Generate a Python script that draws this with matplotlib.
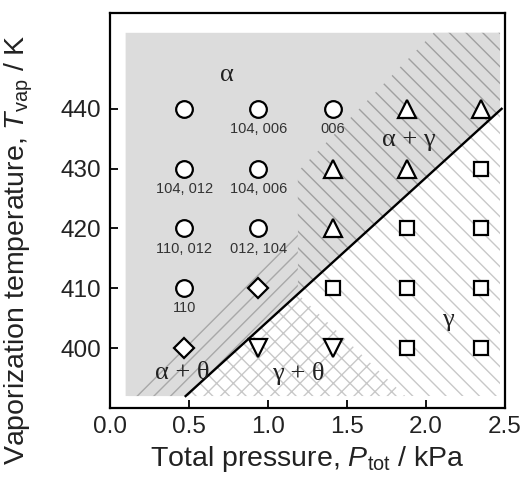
import numpy as np
import matplotlib.pyplot as plt
from matplotlib.patches import Polygon

plt.rcParams['font.family'] = ['Liberation Sans', 'DejaVu Sans']
plt.rcParams['mathtext.fontset'] = 'custom'
plt.rcParams['mathtext.rm'] = 'Liberation Sans'
plt.rcParams['mathtext.it'] = 'Liberation Sans:italic'
plt.rcParams['hatch.linewidth'] = 1.0

# sample grid (total pressure / kPa, vaporization temperature / K)
circ_p = [0.47, 0.94, 1.41, 0.47, 0.94, 0.47, 0.94, 0.47]
circ_t = [440, 440, 440, 430, 430, 420, 420, 410]
circ_lab = ['', '104, 006', '006', '104, 012', '104, 006', '110, 012', '012, 104', '110']
tri_p = [1.88, 2.35, 1.41, 1.88, 1.41]
tri_t = [440, 440, 430, 430, 420]
sq_p = [2.35, 1.88, 2.35, 1.41, 1.88, 2.35, 1.88, 2.35]
sq_t = [430, 420, 420, 410, 410, 410, 400, 400]
dia_p = [0.94, 0.47]
dia_t = [410, 400]
tdn_p = [0.94, 1.41]
tdn_t = [400, 400]

# phase boundary alpha / gamma
bnd_p = [0.48, 2.48]
bnd_t = [392, 440]

# shaded map extent
p_lo, p_hi = 0.1, 2.47
t_lo, t_hi = 392, 452.7
p_kink = 1.19


def bnd(p):
    return np.interp(p, bnd_p, bnd_t)


fig = plt.figure(figsize=(5.28, 4.84), dpi=100)
ax = fig.add_axes([0.208, 0.157, 0.748, 0.816])

gray = '#dcdcdc'
ax.add_patch(Polygon([(p_lo, t_lo), (bnd_p[0], t_lo), (p_hi, bnd(p_hi)),
                      (p_hi, t_hi), (p_lo, t_hi)], closed=True,
                     facecolor=gray, edgecolor='none', zorder=1))
# gamma
ax.add_patch(Polygon([(bnd_p[0], t_lo), (p_hi, t_lo), (p_hi, bnd(p_hi))],
                     closed=True, facecolor='white', edgecolor='#c8c8c8',
                     hatch='\\\\', lw=0, zorder=1))
# alpha + gamma
ax.add_patch(Polygon([(p_kink, bnd(p_kink)), (p_hi, bnd(p_hi)), (p_hi, t_hi),
                      (2.05, t_hi), (p_kink, 429.5)], closed=True,
                     facecolor=gray, edgecolor='#a0a0a0', hatch='\\\\',
                     lw=0, zorder=1))
# alpha + theta
ax.add_patch(Polygon([(p_lo + 0.02, t_lo), (bnd_p[0], t_lo), (p_kink, bnd(p_kink)),
                      (p_kink, 421)], closed=True,
                     facecolor=gray, edgecolor='#a8a8a8', hatch='//',
                     lw=0, zorder=1))
# gamma + theta
ax.add_patch(Polygon([(bnd_p[0], t_lo), (p_kink, bnd(p_kink)), (1.87, t_lo)],
                     closed=True, facecolor='white', edgecolor='#c8c8c8',
                     hatch='xx', lw=0, zorder=1))

ax.plot(bnd_p, bnd_t, color='black', lw=1.7, zorder=3)

mk = dict(ls='none', mfc='white', mec='black', mew=1.6, zorder=4)
ax.plot(circ_p, circ_t, marker='o', ms=12, **mk)
ax.plot(tri_p, tri_t, marker='^', ms=12.5, **mk)
ax.plot(sq_p, sq_t, marker='s', ms=10, **mk)
ax.plot(dia_p, dia_t, marker='D', ms=10, **mk)
ax.plot(tdn_p, tdn_t, marker='v', ms=12.5, **mk)

for p, t, s in zip(circ_p, circ_t, circ_lab):
    if s:
        ax.annotate(s, (p, t), xytext=(0, -14.5), textcoords='offset points',
                    ha='center', va='center', fontsize=10.5, color='#333333')

greek = dict(family=['Liberation Serif', 'DejaVu Serif'], fontsize=19,
             ha='center', va='center', color='#222222', zorder=5)
ax.text(0.74, 445.7, 'α', **greek)
ax.text(1.89, 434.8, 'α + γ', **greek)
ax.text(2.14, 404.7, 'γ', **greek)
ax.text(0.46, 395.8, 'α + θ', **greek)
ax.text(1.19, 395.8, 'γ + θ', **greek)

ax.set_xlim(0, 2.5)
ax.set_ylim(390, 456)
ax.set_xticks([0.0, 0.5, 1.0, 1.5, 2.0, 2.5])
ax.set_xticklabels(['0.0', '0.5', '1.0', '1.5', '2.0', '2.5'])
ax.set_yticks([400, 410, 420, 430, 440])
ax.tick_params(direction='in', length=6, width=1.3, labelsize=17.5,
               pad=6, colors='black', labelcolor='#222222')
for s in ax.spines.values():
    s.set_linewidth(1.6)

ax.set_xlabel('Total pressure, $P_{\\rm tot}$ / kPa', fontsize=20.5,
              color='#222222', labelpad=4)
ax.set_ylabel('Vaporization temperature, $T_{\\rm vap}$ / K', fontsize=20.5,
              color='#222222')
ax.yaxis.set_label_coords(-0.19, 0.4)

fig.savefig('out.png', dpi=100)
